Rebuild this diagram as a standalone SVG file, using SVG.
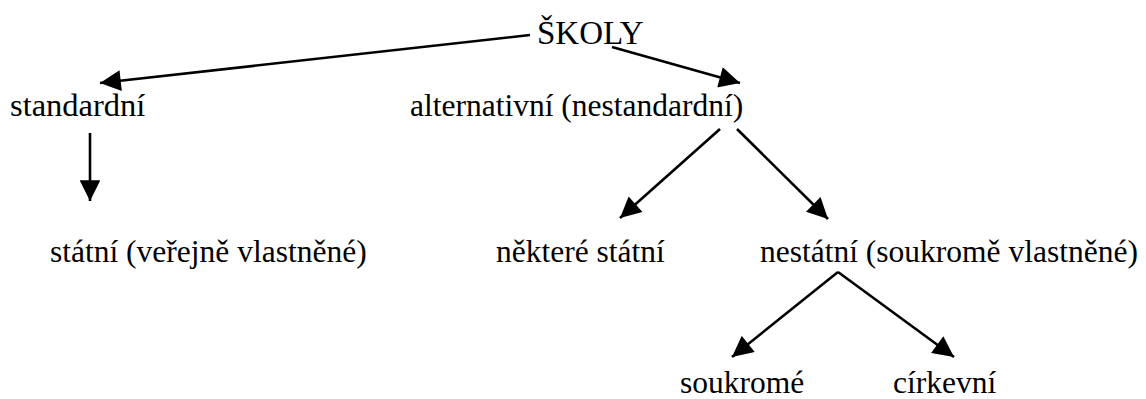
<svg xmlns="http://www.w3.org/2000/svg" width="1146" height="399" viewBox="0 0 1146 399">
<defs>
<marker id="ah" viewBox="0 0 10 10" refX="10" refY="5" markerWidth="8.5" markerHeight="8" markerUnits="strokeWidth" orient="auto">
<path d="M0,0 L10,5 L0,10 z" fill="#000"/>
</marker>
<style>
.t text{font-size:31.5px;fill:#000}
.c line{stroke:#000;stroke-width:2.6;marker-end:url(#ah)}
</style>
</defs>
<rect width="1146" height="399" fill="#fff"/>
<g class="t" font-family="'Liberation Serif', 'Times New Roman', Times, serif">
<g id="skoly"><text x="537" y="44" style="font-size:33px">ŠKOLY</text></g>
<g id="standardni"><text x="10" y="116" style="font-size:32.5px">standardní</text></g>
<g id="alternativni"><text x="410" y="116">alternativní (nestandardní)</text></g>
<g id="statni"><text x="50" y="262">státní (veřejně vlastněné)</text></g>
<g id="nektere"><text x="496" y="262">některé státní</text></g>
<g id="nestatni"><text x="760" y="262">nestátní (soukromě vlastněné)</text></g>
<g id="soukrome"><text x="680" y="393">soukromé</text></g>
<g id="cirkevni"><text x="893" y="393">církevní</text></g>
</g>
<g class="c" id="connectors">
<line x1="530" y1="35" x2="100" y2="83"/>
<line x1="612" y1="47" x2="740" y2="83"/>
<line x1="90" y1="133" x2="90" y2="201"/>
<line x1="720" y1="129" x2="620" y2="218"/>
<line x1="737" y1="129" x2="828" y2="219"/>
<line x1="838" y1="272" x2="732" y2="357"/>
<line x1="838" y1="272" x2="954" y2="357"/>
</g>
</svg>
